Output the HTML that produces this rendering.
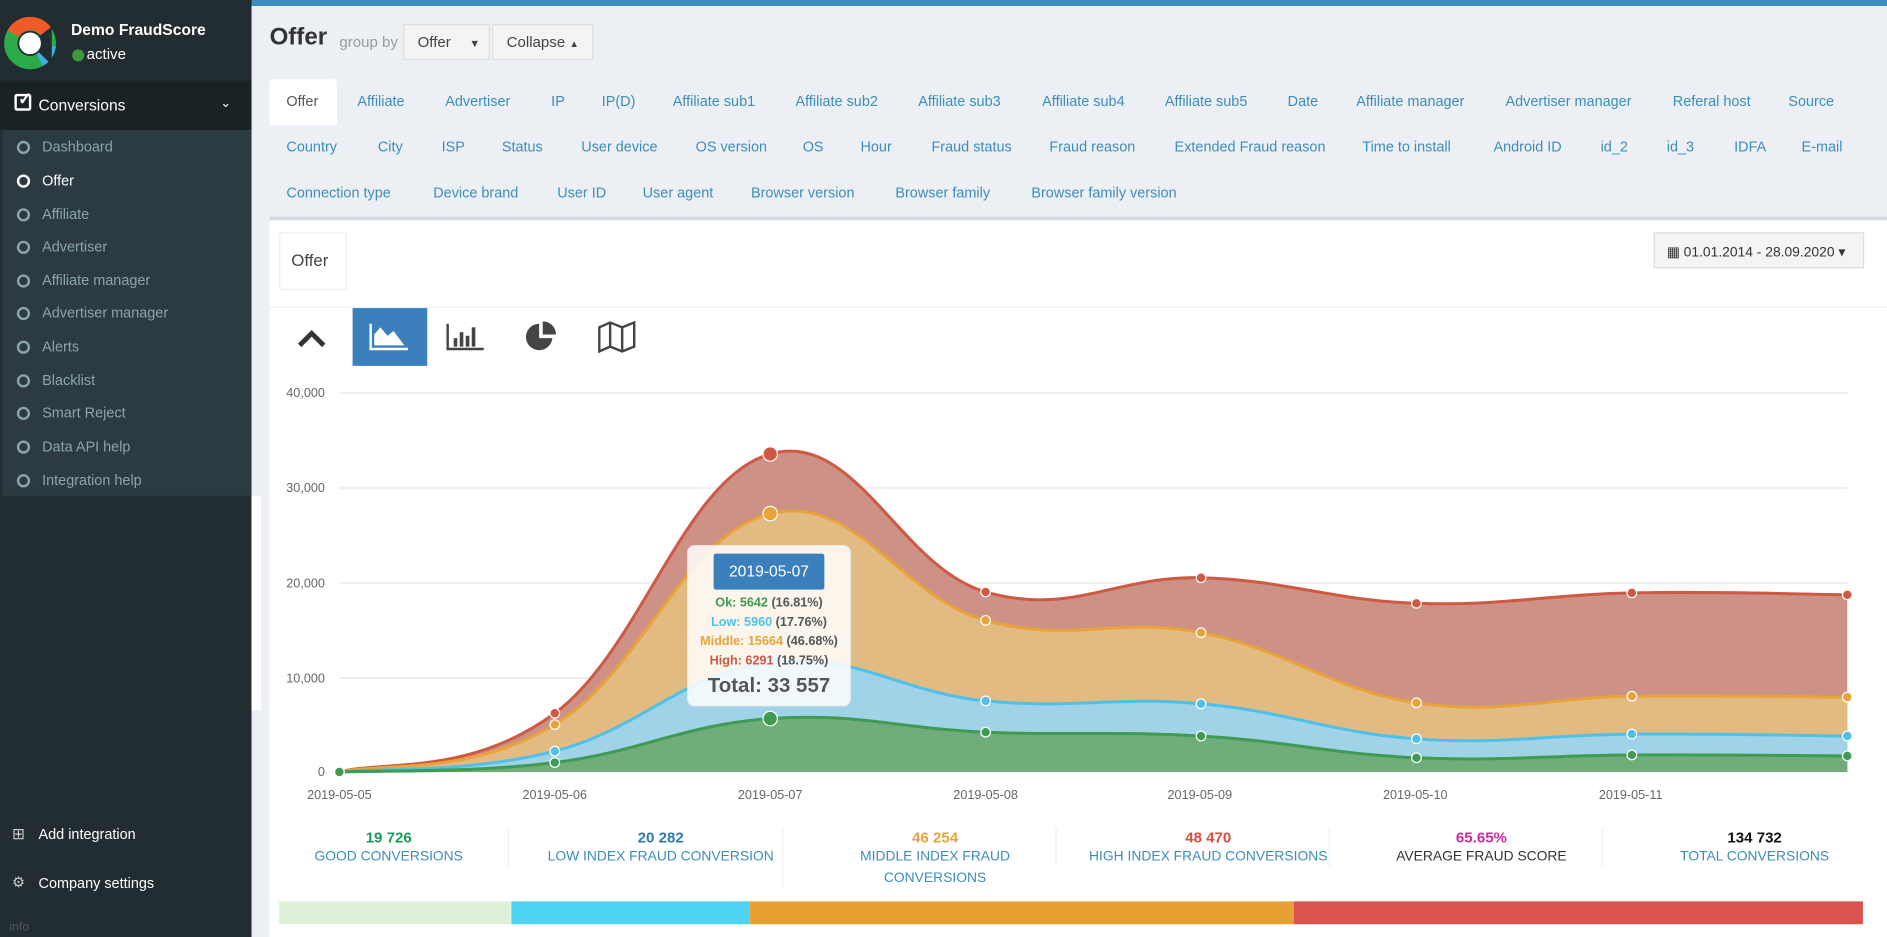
<!DOCTYPE html>
<html><head><meta charset="utf-8"><style>
*{margin:0;padding:0;box-sizing:border-box}
html,body{width:1887px;height:937px;overflow:hidden;background:#ecf0f5;font-family:"Liberation Sans",sans-serif}
#w{position:absolute;left:0;top:0;width:1568px;height:779px;transform:scale(1.20344);transform-origin:0 0;background:#ecf0f5}
.a{position:absolute;white-space:nowrap}
.sb{position:absolute;left:0;top:0;width:209px;height:779px;background:#222d32}
.mi{position:absolute;left:35px;font-size:12px;color:#8aa4af}
.ci{position:absolute;left:14px;width:11px;height:11px;border:2px solid #8aa4af;border-radius:50%}
.tab{position:absolute;font-size:12px;color:#3c8dbc}
.st{position:absolute;text-align:center;width:220px;font-size:11.5px}
.st b{display:block;font-size:12.5px}
.st span{display:block;color:#3c8dbc;line-height:18px}
.sep{position:absolute;top:688px;width:1px;height:32px;background:#eee}
</style></head><body><div id="w">
<div class="a" style="left:0;top:0;width:1568px;height:5px;background:#3c8dbc"></div>
<div class="sb">
 <svg class="a" style="left:3px;top:14px" width="44" height="44" viewBox="0 0 44 44">
  <circle cx="22" cy="22" r="16" fill="none" stroke="#2bab4a" stroke-width="11"/>
  <path d="M8 14 A16 16 0 0 1 35 12" fill="none" stroke="#f05a28" stroke-width="11"/>
  <path d="M38 24 A16 16 0 0 1 30 36" fill="none" stroke="#3ab0e2" stroke-width="11"/>
  <path d="M22 22 L40 8 L40 40Z" fill="#222d32"/>
  <circle cx="22" cy="22" r="9" fill="#fff"/>
 </svg>
 <div class="a" style="left:59px;top:17px;color:#fff;font-size:13px;font-weight:bold">Demo FraudScore</div>
 <div class="a" style="left:60px;top:41px;width:10px;height:10px;border-radius:50%;background:#3c9a3c"></div>
 <div class="a" style="left:72px;top:38px;color:#fff;font-size:12.5px">active</div>
 <div class="a" style="left:0;top:67px;width:209px;height:41px;background:#1a2226"></div>
 <div class="a" style="left:12px;top:78px;width:14px;height:14px;border:2px solid #fff;border-radius:2px"></div>
 <div class="a" style="left:15px;top:74px;color:#fff;font-size:14px;font-weight:bold">✓</div>
 <div class="a" style="left:32px;top:80px;color:#fff;font-size:13px">Conversions</div>
 <div class="a" style="left:183px;top:79px;color:#fff;font-size:11px">⌄</div>
 <div class="a" style="left:2px;top:108px;width:207px;height:304px;background:#2c3b41"></div>
 <div class="ci" style="top:117px"></div><div class="mi" style="top:115px">Dashboard</div>
 <div class="ci" style="top:145px;border-color:#fff"></div><div class="mi" style="top:143px;color:#fff">Offer</div>
 <div class="ci" style="top:173px"></div><div class="mi" style="top:171px">Affiliate</div>
 <div class="ci" style="top:200px"></div><div class="mi" style="top:198px">Advertiser</div>
 <div class="ci" style="top:228px"></div><div class="mi" style="top:226px">Affiliate manager</div>
 <div class="ci" style="top:255px"></div><div class="mi" style="top:253px">Advertiser manager</div>
 <div class="ci" style="top:283px"></div><div class="mi" style="top:281px">Alerts</div>
 <div class="ci" style="top:311px"></div><div class="mi" style="top:309px">Blacklist</div>
 <div class="ci" style="top:338px"></div><div class="mi" style="top:336px">Smart Reject</div>
 <div class="ci" style="top:366px"></div><div class="mi" style="top:364px">Data API help</div>
 <div class="ci" style="top:394px"></div><div class="mi" style="top:392px">Integration help</div>
 <div class="a" style="left:10px;top:685px;color:#ccc;font-size:13px">⊞</div>
 <div class="a" style="left:32px;top:686px;color:#fff;font-size:12px">Add integration</div>
 <div class="a" style="left:10px;top:726px;color:#ccc;font-size:12px">⚙</div>
 <div class="a" style="left:32px;top:727px;color:#fff;font-size:12px">Company settings</div>
 <div class="a" style="left:8px;top:765px;color:#556;font-size:10px">info</div>
</div>
<div class="a" style="left:209px;top:412px;width:8px;height:178px;background:#fff"></div>

<div class="a" style="left:224px;top:20px;font-size:20px;font-weight:bold;color:#333">Offer</div>
<div class="a" style="left:282px;top:28px;font-size:12.5px;color:#999">group by</div>
<div class="a" style="left:335px;top:20px;width:72px;height:30px;background:#f4f4f4;border:1px solid #ddd;font-size:12.5px;color:#444;padding:7px 11px">Offer <span style="font-size:9px;margin-left:12px">▼</span></div>
<div class="a" style="left:409px;top:20px;width:84px;height:30px;background:#f4f4f4;border:1px solid #ddd;font-size:12.5px;color:#444;padding:7px 11px">Collapse <span style="font-size:8px">▲</span></div>

<div class="a" style="left:224px;top:66px;width:56px;height:38px;background:#fff;border-radius:3px 3px 0 0"></div>
<div class="tab" style="left:238px;top:77px;color:#555">Offer</div>
<div class="tab" style="left:297px;top:77px">Affiliate</div>
<div class="tab" style="left:370px;top:77px">Advertiser</div>
<div class="tab" style="left:458px;top:77px">IP</div>
<div class="tab" style="left:500px;top:77px">IP(D)</div>
<div class="tab" style="left:559px;top:77px">Affiliate sub1</div>
<div class="tab" style="left:661px;top:77px">Affiliate sub2</div>
<div class="tab" style="left:763px;top:77px">Affiliate sub3</div>
<div class="tab" style="left:866px;top:77px">Affiliate sub4</div>
<div class="tab" style="left:968px;top:77px">Affiliate sub5</div>
<div class="tab" style="left:1070px;top:77px">Date</div>
<div class="tab" style="left:1127px;top:77px">Affiliate manager</div>
<div class="tab" style="left:1251px;top:77px">Advertiser manager</div>
<div class="tab" style="left:1390px;top:77px">Referal host</div>
<div class="tab" style="left:1486px;top:77px">Source</div>
<div class="tab" style="left:238px;top:115px">Country</div>
<div class="tab" style="left:314px;top:115px">City</div>
<div class="tab" style="left:367px;top:115px">ISP</div>
<div class="tab" style="left:417px;top:115px">Status</div>
<div class="tab" style="left:483px;top:115px">User device</div>
<div class="tab" style="left:578px;top:115px">OS version</div>
<div class="tab" style="left:667px;top:115px">OS</div>
<div class="tab" style="left:715px;top:115px">Hour</div>
<div class="tab" style="left:774px;top:115px">Fraud status</div>
<div class="tab" style="left:872px;top:115px">Fraud reason</div>
<div class="tab" style="left:976px;top:115px">Extended Fraud reason</div>
<div class="tab" style="left:1132px;top:115px">Time to install</div>
<div class="tab" style="left:1241px;top:115px">Android ID</div>
<div class="tab" style="left:1330px;top:115px">id_2</div>
<div class="tab" style="left:1385px;top:115px">id_3</div>
<div class="tab" style="left:1441px;top:115px">IDFA</div>
<div class="tab" style="left:1497px;top:115px">E-mail</div>
<div class="tab" style="left:238px;top:153px">Connection type</div>
<div class="tab" style="left:360px;top:153px">Device brand</div>
<div class="tab" style="left:463px;top:153px">User ID</div>
<div class="tab" style="left:534px;top:153px">User agent</div>
<div class="tab" style="left:624px;top:153px">Browser version</div>
<div class="tab" style="left:744px;top:153px">Browser family</div>
<div class="tab" style="left:857px;top:153px">Browser family version</div>

<div class="a" style="left:224px;top:180px;width:1344px;height:599px;background:#fff;border-top:3px solid #d2d6de"></div>
<div class="a" style="left:232px;top:193px;width:56px;height:48px;border:1px solid #eee;font-size:14px;color:#444;padding:14px 9px">Offer</div>
<div class="a" style="left:1374px;top:193px;width:175px;height:30px;background:#f4f4f4;border:1px solid #ddd;font-size:11.5px;color:#333;padding:8px 10px">▦ 01.01.2014 - 28.09.2020 ▾</div>
<div class="a" style="left:224px;top:255px;width:1344px;height:1px;background:#f0f0f0"></div>
<svg class="a" style="left:246px;top:272px" width="28" height="20"><path d="M3 15 L13 5 L23 15" fill="none" stroke="#333" stroke-width="4"/></svg>
<div class="a" style="left:293px;top:256px;width:62px;height:48px;background:#3c7fbd"></div>
<svg class="a" style="left:305px;top:266px" width="40" height="28"><path d="M3 3 V24 H34" fill="none" stroke="#fff" stroke-width="2"/><path d="M6 21 V12 L11 6 L17 13 L22 9 L31 21Z" fill="#fff"/></svg>
<svg class="a" style="left:370px;top:266px" width="34" height="28"><path d="M2 3 V24 H32" fill="none" stroke="#444" stroke-width="2"/><rect x="7" y="15" width="3" height="7" fill="#444"/><rect x="12" y="10" width="3" height="12" fill="#444"/><rect x="17" y="13" width="3" height="9" fill="#444"/><rect x="22" y="6" width="3" height="16" fill="#444"/></svg>
<svg class="a" style="left:434px;top:266px" width="32" height="28"><path d="M14 3 A11 11 0 1 0 25 15 H14Z" fill="#444"/><path d="M17 1 A11 11 0 0 1 28 12 H17Z" fill="#444"/></svg>
<svg class="a" style="left:496px;top:266px" width="34" height="28"><path d="M2 6 L11 2 L21 6 L31 2 V22 L21 26 L11 22 L2 26Z M11 2 V22 M21 6 V26" fill="none" stroke="#444" stroke-width="2"/></svg>

<svg class="a" style="left:224px;top:310px" width="1344" height="370" id="ch">
 <g font-family="Liberation Sans,sans-serif" font-size="10.5" fill="#666">
  <g stroke="#e6e6e6" stroke-width="1">
   <line x1="58" x2="1311" y1="16.5" y2="16.5"/><line x1="58" x2="1311" y1="95.5" y2="95.5"/><line x1="58" x2="1311" y1="174.5" y2="174.5"/><line x1="58" x2="1311" y1="253.5" y2="253.5"/><line x1="58" x2="1311" y1="331.5" y2="331.5"/>
  </g>
  <text x="46" y="20" text-anchor="end">40,000</text><text x="46" y="99" text-anchor="end">30,000</text><text x="46" y="178" text-anchor="end">20,000</text><text x="46" y="257" text-anchor="end">10,000</text><text x="46" y="335" text-anchor="end">0</text>
  <text x="58" y="354" text-anchor="middle">2019-05-05</text><text x="237" y="354" text-anchor="middle">2019-05-06</text><text x="416" y="354" text-anchor="middle">2019-05-07</text><text x="595" y="354" text-anchor="middle">2019-05-08</text><text x="773" y="354" text-anchor="middle">2019-05-09</text><text x="952" y="354" text-anchor="middle">2019-05-10</text><text x="1131" y="354" text-anchor="middle">2019-05-11</text>
 </g>
 <g id="series"></g>
</svg>

<div class="a" style="left:571px;top:453px;width:136px;height:134px;background:rgba(255,255,255,0.85);border:1px solid #eee;border-radius:6px;font-size:10.5px;font-weight:bold;text-align:center;color:#555">
 <div style="margin:6px auto 0;width:92px;height:30px;background:#3c7fbd;color:#fff;font-weight:normal;font-size:13px;line-height:30px;border-radius:2px">2019-05-07</div>
 <div style="margin-top:3px;line-height:16px"><span style="color:#3f9a52">Ok: 5642</span> (16.81%)</div>
 <div style="line-height:16px"><span style="color:#4fc0e8">Low: 5960</span> (17.76%)</div>
 <div style="line-height:16px"><span style="color:#e8a33a">Middle: 15664</span> (46.68%)</div>
 <div style="line-height:16px"><span style="color:#cf5a44">High: 6291</span> (18.75%)</div>
 <div style="font-size:17px;line-height:26px;color:#555">Total: 33 557</div>
</div>

<div class="st" style="left:213px;top:689px"><b style="color:#1a9a5a">19 726</b><span>GOOD CONVERSIONS</span></div>
<div class="st" style="left:439px;top:689px"><b style="color:#2a7ab0">20 282</b><span>LOW INDEX FRAUD CONVERSION</span></div>
<div class="st" style="left:667px;top:689px"><b style="color:#e8a33a">46 254</b><span>MIDDLE INDEX FRAUD<br>CONVERSIONS</span></div>
<div class="st" style="left:894px;top:689px"><b style="color:#dd4b39">48 470</b><span>HIGH INDEX FRAUD CONVERSIONS</span></div>
<div class="st" style="left:1121px;top:689px"><b style="color:#d0289f">65.65%</b><span style="color:#333">AVERAGE FRAUD SCORE</span></div>
<div class="st" style="left:1348px;top:689px"><b style="color:#111">134 732</b><span>TOTAL CONVERSIONS</span></div>
<div class="sep" style="left:422px"></div><div class="sep" style="left:650px;height:50px"></div><div class="sep" style="left:877px"></div><div class="sep" style="left:1104px"></div><div class="sep" style="left:1331px"></div>

<div class="a" style="left:232px;top:749px;width:193px;height:19px;background:#dff0d8"></div>
<div class="a" style="left:425px;top:749px;width:198px;height:19px;background:#4fd3f5"></div>
<div class="a" style="left:623px;top:749px;width:452px;height:19px;background:#e8a033"></div>
<div class="a" style="left:1075px;top:749px;width:473px;height:19px;background:#d9534f"></div>
</div>
<script>
(function(){
var X=[],i;for(i=0;i<8;i++)X.push(58+i*179);
var Y0=331.5,S=315/40000;
var ok=[0,1000,5642,4200,3800,1500,1800,1700];
var low=[0,2200,11602,7500,7200,3500,4000,3800];
var mid=[0,5000,27266,16000,14700,7300,8000,7900];
var hi=[0,6200,33557,19000,20500,17800,18900,18700];
function pts(a){return a.map(function(v,i){return [X[i],Y0-v*S]})}
function curve(p){var d="M"+p[0][0]+" "+p[0][1];for(var i=0;i<p.length-1;i++){var p0=p[i-1]||p[i],p1=p[i],p2=p[i+1],p3=p[i+2]||p2;var t=0.2;
var c1x=p1[0]+(p2[0]-p0[0])*t,c1y=p1[1]+(p2[1]-p0[1])*t,c2x=p2[0]-(p3[0]-p1[0])*t,c2y=p2[1]-(p3[1]-p1[1])*t;
d+=" C"+c1x.toFixed(1)+" "+c1y.toFixed(1)+" "+c2x.toFixed(1)+" "+c2y.toFixed(1)+" "+p2[0]+" "+p2[1];}return d}
var S_=[[hi,"#cd9185","#cf5a44"],[mid,"#e2bb83","#e8a33a"],[low,"#a0d2e8","#4fc0e8"],[ok,"#70ad7b","#3f9a52"]];
var g=document.getElementById("series"),h="",c="";
S_.forEach(function(s){var p=pts(s[0]);var d=curve(p);
h+='<path d="'+d+' L'+X[7]+' '+Y0+' L'+X[0]+' '+Y0+'Z" fill="'+s[1]+'"/>';
h+='<path d="'+d+'" fill="none" stroke="'+s[2]+'" stroke-width="2.5"/>';
p.forEach(function(q,i){var r=(i==2)?6:4;c+='<circle cx="'+q[0]+'" cy="'+q[1]+'" r="'+r+'" fill="'+s[2]+'" stroke="#fff" stroke-width="1"/>';});});
g.innerHTML=h+c;
})();
</script>
</body></html>
